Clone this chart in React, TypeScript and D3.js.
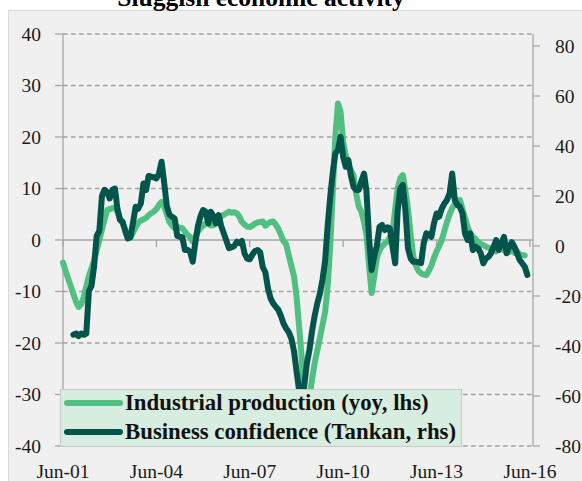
import React from "react";
import * as d3 from "d3";

const title = "Sluggish economic activity";
const seriesNames = ["Industrial production (yoy, lhs)", "Business confidence (Tankan, rhs)"];
const xTickLabels = ["Jun-01", "Jun-04", "Jun-07", "Jun-10", "Jun-13", "Jun-16"];
const leftTicks = [40, 30, 20, 10, 0, -10, -20, -30, -40];
const rightTicks = [80, 60, 40, 20, 0, -20, -40, -60, -80];

// Industrial production yoy %, monthly from Jun-01
const ipStart = [2001, 5];
const ipValues = [
  -4.4, -6, -7.5, -9, -10.5, -12, -13, -12.5, -11, -9,
  -7, -5.5, -4, -2, 0, 2, 4, 5.8, 6, 6.2,
  6.3, 5.5, 4.2, 3.3, 2, 0.8, 0.5, 1.5, 2.5, 3.3,
  3.8, 4, 4.3, 4.8, 5.2, 5.5, 6, 6.8, 7.4, 6.5,
  5, 3.5, 2.8, 2.3, 2.5, 2.4, 2.3, 1.6, 1, 0.6,
  -0.3, 0.5, 1.6, 2.3, 2.8, 3.3, 3.1, 2.8, 2.9, 3.5,
  4.3, 4.6, 4.9, 5.2, 5.5, 5.3, 5.4, 5.2, 4.5, 3.5,
  3, 2.6, 2.5, 2.8, 3.2, 3.4, 3.5, 3.6, 2.8, 3.2,
  3.5, 3.6, 3, 2.2, 1, -0.2, -0.8, -3, -5, -7,
  -11, -17, -23, -30, -35, -31, -27, -24, -21.5, -19,
  -16.5, -14, -9, -1, 10, 20, 26.5, 25, 19, 16.5,
  14.5, 13.5, 12.5, 9, 6.5, 5.5, 3.5, 1, -5, -10.3,
  -7, -3.5, -2, -1.2, -0.7, -0.3, 0.5, 1.3, 6, 10,
  12, 12.6, 9.5, 6, 1, -3.2, -5, -6, -6.5, -6.7,
  -6.8, -6, -5, -3.5, -2.2, -1.2, 0, 1.8, 3.5, 5,
  6.2, 7, 7.5, 7.8, 6, 4.3, 2.5, 1.3, 0.6, 0.2,
  -0.4, -0.8, -1, -1.3, -1.5, -1.8, -1.9, -2.2, -1.5, -1.2,
  -2, -1.5, -2.3, -1.8, -2.5, -2.2, -2.8, -2.9, -3,
];

// Business confidence, monthly from Oct-01
const bcStart = [2001, 9];
const bcValues = [
  -35.5, -35, -36, -35, -35.5, -35,
  -18, -16, -8, 4, 6, 20, 22.5, 21.5, 19, 22.5,
  23, 15, 10.4, 9.7, 6, 3, 3.5, 9.5, 15.7, 15,
  17, 25, 22.4, 28, 27.7, 27.5, 27, 29, 33.7, 25,
  16, 12.5, 11.7, 11, 4, 3.7, 3.5, -1.6, -1.5, -2.3,
  -6.3, 1.5, 8, 12, 14.4, 13.7, 9, 13.7, 12, 9,
  12.4, 8, 5, 2, -0.9, -0.5, 0, 1.7, 1.1, 2,
  -3, -5, -5.3, -3.5, -2, -1.6, -2.5, -8.5, -10.5, -17,
  -21, -22.9, -24.3, -25.5, -28, -31, -33, -34.5, -37, -42,
  -50, -58, -62, -56, -47, -41.6, -34, -28, -23, -19,
  -13.6, -6, 8, 20, 30, 37, 38.4, 43.7, 35.7, 31.7,
  34.4, 28, 23.7, 22.4, 22.4, 26, 29, 22, 3, -9.6,
  -4, 0, 7.7, 8.4, 6.4, 7.5, 7, -0.3, -6.9, 14,
  23, 24.4, 14, -1, -5, -6.3, -6.3, -6.5, -6.9, 1.1,
  5.1, 4.5, 3.7, 9, 13, 11.7, 15, 17, 18.4, 21,
  29, 18.4, 16.4, 15.7, 13, 5, 2.4, 5.1, -1.6, -0.3,
  -1, -2.9, -6.9, -5, -4.3, -2.9, -0.3, 2.4, -1.6, 1,
  3.7, -2.9, -0.3, 1.5, -0.3, -2.9, -5.6, -6.9, -8.3, -11.6,
];

const ipColor = "#52bf82";
const bcColor = "#03544a";
const font = "'Liberation Serif', 'Times New Roman', serif";

export default function App() {
  const W = 582, H = 481;
  const plotL = 63, plotR = 533, plotT = 34, plotB = 446;

  const x = d3.scaleTime()
    .domain([new Date(2001, 5, 1), new Date(2016, 5, 1)])
    .range([plotL, 530]);
  const yL = d3.scaleLinear().domain([-40, 40]).range([plotB, plotT]);
  const yR = d3.scaleLinear().domain([-80, 80]).range([446, 46]);

  const ipData = ipValues.map((v, i) => ({ d: new Date(ipStart[0], ipStart[1] + i, 1), v }));
  const bcData = bcValues.map((v, i) => ({ d: new Date(bcStart[0], bcStart[1] + i, 1), v }));

  const ipLine = d3.line<any>().x((p) => x(p.d)).y((p) => yL(p.v));
  const bcLine = d3.line<any>().x((p) => x(p.d)).y((p) => yR(p.v));

  const tickDates = xTickLabels.map((_, k) => new Date(2001 + 3 * k, 5, 1));
  const axisColor = "#a6a6a6";

  return (
    <svg width={W} height={H} style={{ position: "absolute", left: 0, top: 0, background: "#fff" }}>
      <rect x={8.5} y={10.5} width={W} height={H} fill="#f0f0f0" stroke="#d9d9d9" />
      <text x={261} y={5.5} textAnchor="middle" fontFamily={font} fontWeight="bold" fontSize={25.5} fill="#000">
        {title}
      </text>

      {/* gridlines */}
      {leftTicks.filter((t) => t !== 0).map((t) => (
        <line key={"g" + t} x1={plotL} x2={plotR} y1={yL(t)} y2={yL(t)}
          stroke="#a0a0a0" strokeWidth={1.3} strokeDasharray="4.5,3.5" />
      ))}

      {/* left axis */}
      <line x1={plotL} x2={plotL} y1={plotT} y2={plotB} stroke={axisColor} strokeWidth={1.3} />
      {leftTicks.map((t) => (
        <g key={"l" + t}>
          <line x1={plotL - 8} x2={plotL} y1={yL(t)} y2={yL(t)} stroke={axisColor} strokeWidth={1.3} />
          <text x={41} y={yL(t) + 6.7} textAnchor="end" fontFamily={font} fontSize={19.5} fill="#1a1a1a">
            {t}
          </text>
        </g>
      ))}

      {/* right axis */}
      <line x1={plotR} x2={plotR} y1={plotT} y2={plotB} stroke={axisColor} strokeWidth={1.3} />
      {rightTicks.map((t) => (
        <g key={"r" + t}>
          <line x1={plotR} x2={plotR + 7} y1={yR(t)} y2={yR(t)} stroke={axisColor} strokeWidth={1.3} />
          <text x={555} y={yR(t) + 6.7} textAnchor="start" fontFamily={font} fontSize={19.5} fill="#1a1a1a">
            {t}
          </text>
        </g>
      ))}

      {/* category axis at 0 */}
      <line x1={plotL} x2={plotR} y1={yL(0)} y2={yL(0)} stroke={axisColor} strokeWidth={1.3} />
      {tickDates.map((d, k) => (
        <g key={"x" + k}>
          <line x1={x(d)} x2={x(d)} y1={yL(0)} y2={yL(0) + 7} stroke={axisColor} strokeWidth={1.3} />
          <text x={x(d)} y={478} textAnchor="middle" fontFamily={font} fontSize={19.5} fill="#1a1a1a">
            {xTickLabels[k]}
          </text>
        </g>
      ))}

      {/* series */}
      <path d={ipLine(ipData) || ""} fill="none" stroke={ipColor} strokeWidth={6}
        strokeLinejoin="round" strokeLinecap="round" />
      <path d={bcLine(bcData) || ""} fill="none" stroke={bcColor} strokeWidth={6}
        strokeLinejoin="round" strokeLinecap="round" />

      {/* legend */}
      <rect x={60.5} y={389.5} width={401} height={57} fill="#d6ede0" stroke="#c8c8c8" />
      <line x1={67} x2={120} y1={403} y2={403} stroke={ipColor} strokeWidth={6} strokeLinecap="round" />
      <line x1={67} x2={120} y1={432} y2={432} stroke={bcColor} strokeWidth={6} strokeLinecap="round" />
      <text x={125} y={410} fontFamily={font} fontWeight="bold" fontSize={22.8} fill="#111">
        {seriesNames[0]}
      </text>
      <text x={125} y={439} fontFamily={font} fontWeight="bold" fontSize={22.8} fill="#111">
        {seriesNames[1]}
      </text>
    </svg>
  );
}
